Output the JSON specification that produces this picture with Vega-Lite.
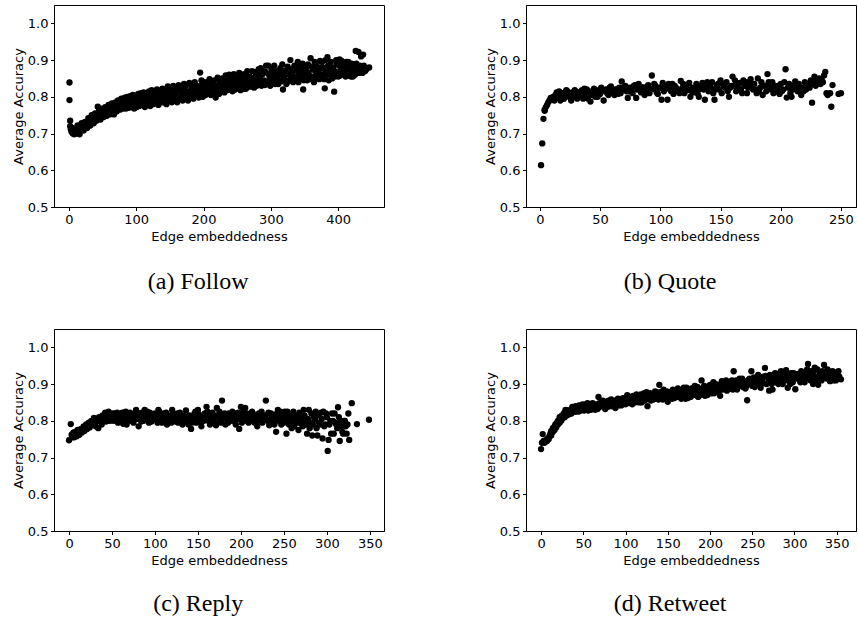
{
"$schema": "https://vega.github.io/schema/vega-lite/v6.json",
"padding": {"left": 11, "top": 4, "right": 0, "bottom": 0},
"columns": 2,
"spacing": {"column": 98, "row": 33},
"config": {
 "view": {"stroke": "black", "strokeWidth": 1},
 "axis": {"domainColor": "black", "domainWidth": 1, "tickColor": "black", "tickWidth": 1, "labelColor": "black", "titleColor": "black", "labelFont": "DejaVu Sans", "titleFont": "DejaVu Sans", "labelFontSize": 13, "titleFontSize": 13, "titleFontWeight": "normal", "tickSize": 3.5, "labelPadding": 2.5, "grid": false, "titlePadding": 4, "labelFlush": false, "labelOverlap": false},
 "axisY": {"titlePadding": 2},
 "title": {"font": "Liberation Serif", "fontSize": 24, "fontWeight": "normal", "color": "black", "orient": "bottom", "anchor": "middle", "frame": "bounds"}
},
"datasets": {
"a": [{"x":1,"y":0.839},{"x":1,"y":0.791},{"x":2,"y":0.735},{"x":2,"y":0.72},{"x":3,"y":0.712},{"x":4,"y":0.705},{"x":5,"y":0.715},{"x":6,"y":0.70},{"x":7,"y":0.708},{"x":8,"y":0.698},{"x":9,"y":0.703},{"x":10,"y":0.71},{"x":11,"y":0.70},{"x":12,"y":0.706},{"x":14,"y":0.712},{"x":15,"y":0.705},{"x":17,"y":0.71},{"x":18,"y":0.72},{"x":20,"y":0.713},{"x":21,"y":0.725},{"x":23,"y":0.718},{"x":25,"y":0.728},{"x":26,"y":0.72},{"x":28,"y":0.73},{"x":30,"y":0.735},{"x":31,"y":0.725},{"x":33,"y":0.74},{"x":35,"y":0.73},{"x":36,"y":0.745},{"x":38,"y":0.738},{"x":40,"y":0.748},{"x":41,"y":0.735},{"x":43,"y":0.773},{"x":44,"y":0.755},{"x":46,"y":0.745},{"x":48,"y":0.752},{"x":50,"y":0.76},{"x":51,"y":0.748},{"x":53,"y":0.765},{"x":55,"y":0.755},{"x":57,"y":0.768},{"x":58,"y":0.76},{"x":60,"y":0.772},{"x":62,"y":0.762},{"x":63,"y":0.775},{"x":65,"y":0.768},{"x":67,"y":0.752},{"x":68,"y":0.778},{"x":70,"y":0.77},{"x":72,"y":0.782},{"x":74,"y":0.772},{"x":75,"y":0.788},{"x":77,"y":0.775},{"x":79,"y":0.792},{"x":80,"y":0.78},{"x":82,"y":0.77},{"x":84,"y":0.785},{"x":86,"y":0.775},{"x":88,"y":0.79},{"x":90,"y":0.78},{"x":92,"y":0.773},{"x":94,"y":0.795},{"x":96,"y":0.782},{"x":98,"y":0.77},{"x":100,"y":0.79},{"x":102,"y":0.78},{"x":104,"y":0.798},{"x":106,"y":0.785},{"x":108,"y":0.792},{"x":110,"y":0.78},{"x":112,"y":0.8},{"x":114,"y":0.788},{"x":116,"y":0.81},{"x":118,"y":0.795},{"x":120,"y":0.785},{"x":122,"y":0.805},{"x":124,"y":0.793},{"x":126,"y":0.812},{"x":128,"y":0.8},{"x":130,"y":0.79},{"x":132,"y":0.808},{"x":134,"y":0.795},{"x":136,"y":0.815},{"x":138,"y":0.8},{"x":140,"y":0.785},{"x":142,"y":0.81},{"x":144,"y":0.798},{"x":146,"y":0.79},{"x":148,"y":0.805},{"x":150,"y":0.825},{"x":152,"y":0.81},{"x":154,"y":0.795},{"x":156,"y":0.818},{"x":158,"y":0.805},{"x":160,"y":0.792},{"x":162,"y":0.815},{"x":164,"y":0.825},{"x":166,"y":0.8},{"x":168,"y":0.812},{"x":170,"y":0.82},{"x":172,"y":0.805},{"x":174,"y":0.83},{"x":176,"y":0.815},{"x":178,"y":0.8},{"x":180,"y":0.835},{"x":182,"y":0.82},{"x":184,"y":0.808},{"x":186,"y":0.825},{"x":188,"y":0.815},{"x":190,"y":0.83},{"x":192,"y":0.81},{"x":195,"y":0.866},{"x":196,"y":0.82},{"x":198,"y":0.835},{"x":200,"y":0.812},{"x":202,"y":0.828},{"x":204,"y":0.818},{"x":206,"y":0.84},{"x":208,"y":0.822},{"x":210,"y":0.812},{"x":212,"y":0.835},{"x":214,"y":0.825},{"x":216,"y":0.845},{"x":218,"y":0.798},{"x":220,"y":0.83},{"x":222,"y":0.818},{"x":224,"y":0.84},{"x":226,"y":0.826},{"x":228,"y":0.85},{"x":230,"y":0.832},{"x":232,"y":0.82},{"x":234,"y":0.845},{"x":236,"y":0.83},{"x":238,"y":0.86},{"x":240,"y":0.838},{"x":242,"y":0.825},{"x":244,"y":0.848},{"x":246,"y":0.833},{"x":248,"y":0.855},{"x":250,"y":0.84},{"x":252,"y":0.826},{"x":254,"y":0.85},{"x":256,"y":0.835},{"x":258,"y":0.86},{"x":260,"y":0.822},{"x":262,"y":0.845},{"x":264,"y":0.833},{"x":266,"y":0.855},{"x":268,"y":0.84},{"x":270,"y":0.828},{"x":272,"y":0.87},{"x":274,"y":0.848},{"x":276,"y":0.835},{"x":278,"y":0.858},{"x":280,"y":0.845},{"x":282,"y":0.875},{"x":284,"y":0.85},{"x":286,"y":0.83},{"x":288,"y":0.862},{"x":290,"y":0.845},{"x":292,"y":0.868},{"x":294,"y":0.838},{"x":296,"y":0.885},{"x":298,"y":0.855},{"x":300,"y":0.842},{"x":302,"y":0.865},{"x":304,"y":0.85},{"x":306,"y":0.835},{"x":308,"y":0.87},{"x":310,"y":0.855},{"x":312,"y":0.845},{"x":314,"y":0.878},{"x":316,"y":0.86},{"x":318,"y":0.82},{"x":320,"y":0.852},{"x":322,"y":0.872},{"x":324,"y":0.84},{"x":326,"y":0.862},{"x":329,"y":0.9},{"x":330,"y":0.85},{"x":332,"y":0.868},{"x":334,"y":0.855},{"x":336,"y":0.875},{"x":338,"y":0.845},{"x":340,"y":0.895},{"x":342,"y":0.862},{"x":344,"y":0.85},{"x":346,"y":0.872},{"x":348,"y":0.82},{"x":350,"y":0.858},{"x":352,"y":0.878},{"x":354,"y":0.845},{"x":356,"y":0.865},{"x":359,"y":0.905},{"x":360,"y":0.855},{"x":362,"y":0.875},{"x":364,"y":0.84},{"x":366,"y":0.87},{"x":368,"y":0.885},{"x":370,"y":0.86},{"x":372,"y":0.848},{"x":374,"y":0.878},{"x":376,"y":0.895},{"x":378,"y":0.862},{"x":380,"y":0.823},{"x":382,"y":0.87},{"x":384,"y":0.908},{"x":386,"y":0.845},{"x":388,"y":0.875},{"x":390,"y":0.86},{"x":392,"y":0.88},{"x":394,"y":0.814},{"x":396,"y":0.868},{"x":398,"y":0.89},{"x":400,"y":0.855},{"x":402,"y":0.902},{"x":404,"y":0.875},{"x":406,"y":0.862},{"x":408,"y":0.885},{"x":410,"y":0.87},{"x":412,"y":0.895},{"x":414,"y":0.858},{"x":416,"y":0.88},{"x":418,"y":0.865},{"x":420,"y":0.89},{"x":422,"y":0.855},{"x":424,"y":0.875},{"x":426,"y":0.925},{"x":428,"y":0.87},{"x":430,"y":0.922},{"x":432,"y":0.885},{"x":434,"y":0.91},{"x":436,"y":0.865},{"x":437,"y":0.915},{"x":440,"y":0.87},{"x":446,"y":0.88},
{"x":13,"y":0.722},{"x":16,"y":0.698},{"x":19,"y":0.728},{"x":22,"y":0.708},{"x":24,"y":0.732},{"x":27,"y":0.715},{"x":29,"y":0.742},{"x":32,"y":0.722},{"x":34,"y":0.75},{"x":37,"y":0.728},{"x":39,"y":0.755},{"x":42,"y":0.738},{"x":45,"y":0.762},{"x":47,"y":0.738},{"x":49,"y":0.768},{"x":52,"y":0.745},{"x":54,"y":0.772},{"x":56,"y":0.748},{"x":59,"y":0.778},{"x":61,"y":0.752},{"x":64,"y":0.782},{"x":66,"y":0.758},{"x":69,"y":0.785},{"x":71,"y":0.76},{"x":73,"y":0.79},{"x":76,"y":0.765},{"x":78,"y":0.795},{"x":81,"y":0.768},{"x":83,"y":0.798},{"x":85,"y":0.768},{"x":87,"y":0.8},{"x":89,"y":0.77},{"x":91,"y":0.802},{"x":93,"y":0.772},{"x":95,"y":0.805},{"x":97,"y":0.768},{"x":99,"y":0.8},{"x":101,"y":0.772},{"x":103,"y":0.808},{"x":105,"y":0.775},{"x":107,"y":0.81},{"x":109,"y":0.778},{"x":111,"y":0.812},{"x":113,"y":0.772},{"x":115,"y":0.8},{"x":117,"y":0.778},{"x":119,"y":0.815},{"x":121,"y":0.775},{"x":123,"y":0.818},{"x":125,"y":0.78},{"x":127,"y":0.798},{"x":129,"y":0.782},{"x":131,"y":0.82},{"x":133,"y":0.778},{"x":135,"y":0.805},{"x":137,"y":0.785},{"x":139,"y":0.822},{"x":141,"y":0.79},{"x":143,"y":0.818},{"x":145,"y":0.78},{"x":147,"y":0.828},{"x":149,"y":0.79},{"x":151,"y":0.815},{"x":153,"y":0.785},{"x":155,"y":0.83},{"x":157,"y":0.792},{"x":159,"y":0.82},{"x":161,"y":0.785},{"x":163,"y":0.832},{"x":165,"y":0.795},{"x":167,"y":0.828},{"x":169,"y":0.79},{"x":171,"y":0.835},{"x":173,"y":0.8},{"x":175,"y":0.81},{"x":177,"y":0.79},{"x":179,"y":0.838},{"x":181,"y":0.8},{"x":183,"y":0.832},{"x":185,"y":0.795},{"x":187,"y":0.84},{"x":189,"y":0.805},{"x":191,"y":0.825},{"x":193,"y":0.798},{"x":197,"y":0.845},{"x":199,"y":0.8},{"x":201,"y":0.84},{"x":203,"y":0.805},{"x":205,"y":0.83},{"x":207,"y":0.81},{"x":209,"y":0.848},{"x":211,"y":0.805},{"x":213,"y":0.84},{"x":215,"y":0.81},{"x":217,"y":0.825},{"x":219,"y":0.812},{"x":221,"y":0.852},{"x":223,"y":0.808},{"x":225,"y":0.845},{"x":227,"y":0.815},{"x":229,"y":0.835},{"x":231,"y":0.812},{"x":233,"y":0.858},{"x":235,"y":0.818},{"x":237,"y":0.848},{"x":239,"y":0.82},{"x":241,"y":0.855},{"x":243,"y":0.815},{"x":245,"y":0.862},{"x":247,"y":0.82},{"x":249,"y":0.845},{"x":251,"y":0.825},{"x":253,"y":0.865},{"x":255,"y":0.818},{"x":257,"y":0.848},{"x":259,"y":0.83},{"x":261,"y":0.862},{"x":263,"y":0.822},{"x":265,"y":0.87},{"x":267,"y":0.828},{"x":269,"y":0.855},{"x":271,"y":0.835},{"x":273,"y":0.845},{"x":275,"y":0.825},{"x":277,"y":0.868},{"x":279,"y":0.83},{"x":281,"y":0.862},{"x":283,"y":0.835},{"x":285,"y":0.878},{"x":287,"y":0.838},{"x":289,"y":0.87},{"x":291,"y":0.832},{"x":293,"y":0.885},{"x":295,"y":0.84},{"x":297,"y":0.862},{"x":299,"y":0.83},{"x":301,"y":0.875},{"x":303,"y":0.838},{"x":305,"y":0.885},{"x":307,"y":0.845},{"x":309,"y":0.86},{"x":311,"y":0.835},{"x":313,"y":0.868},{"x":315,"y":0.842},{"x":317,"y":0.888},{"x":319,"y":0.85},{"x":321,"y":0.865},{"x":323,"y":0.835},{"x":325,"y":0.882},{"x":327,"y":0.845},{"x":331,"y":0.875},{"x":333,"y":0.84},{"x":335,"y":0.885},{"x":337,"y":0.85},{"x":339,"y":0.87},{"x":341,"y":0.84},{"x":343,"y":0.882},{"x":345,"y":0.855},{"x":347,"y":0.89},{"x":349,"y":0.845},{"x":351,"y":0.87},{"x":353,"y":0.855},{"x":355,"y":0.888},{"x":357,"y":0.848},{"x":361,"y":0.882},{"x":363,"y":0.855},{"x":365,"y":0.895},{"x":367,"y":0.85},{"x":369,"y":0.875},{"x":371,"y":0.865},{"x":373,"y":0.898},{"x":375,"y":0.855},{"x":377,"y":0.88},{"x":379,"y":0.848},{"x":381,"y":0.9},{"x":383,"y":0.86},{"x":385,"y":0.885},{"x":387,"y":0.862},{"x":389,"y":0.895},{"x":391,"y":0.85},{"x":393,"y":0.875},{"x":395,"y":0.855},{"x":397,"y":0.9},{"x":399,"y":0.865},{"x":401,"y":0.885},{"x":403,"y":0.858},{"x":405,"y":0.898},{"x":407,"y":0.87},{"x":409,"y":0.89},{"x":411,"y":0.855},{"x":413,"y":0.878},{"x":415,"y":0.895},{"x":417,"y":0.868},{"x":419,"y":0.855},{"x":421,"y":0.878},{"x":423,"y":0.885},{"x":425,"y":0.86},{"x":427,"y":0.89},{"x":429,"y":0.875},{"x":431,"y":0.865},{"x":433,"y":0.882},{"x":435,"y":0.87},{"x":438,"y":0.885},{"x":442,"y":0.875}],
"b": [{"x":1,"y":0.614},{"x":2,"y":0.673},{"x":3,"y":0.74},{"x":4,"y":0.765},{"x":4,"y":0.762},{"x":5,"y":0.772},{"x":6,"y":0.778},{"x":7,"y":0.785},{"x":8,"y":0.79},{"x":9,"y":0.797},{"x":10,"y":0.793},{"x":11,"y":0.80},{"x":12,"y":0.79},{"x":13,"y":0.805},{"x":14,"y":0.798},{"x":15,"y":0.81},{"x":16,"y":0.80},{"x":17,"y":0.79},{"x":18,"y":0.81},{"x":19,"y":0.802},{"x":20,"y":0.795},{"x":21,"y":0.812},{"x":22,"y":0.805},{"x":23,"y":0.815},{"x":24,"y":0.80},{"x":25,"y":0.81},{"x":26,"y":0.79},{"x":27,"y":0.812},{"x":28,"y":0.80},{"x":30,"y":0.808},{"x":31,"y":0.795},{"x":32,"y":0.812},{"x":33,"y":0.80},{"x":35,"y":0.818},{"x":36,"y":0.805},{"x":37,"y":0.822},{"x":38,"y":0.81},{"x":40,"y":0.795},{"x":41,"y":0.815},{"x":42,"y":0.787},{"x":43,"y":0.805},{"x":44,"y":0.815},{"x":46,"y":0.80},{"x":47,"y":0.81},{"x":49,"y":0.818},{"x":50,"y":0.808},{"x":51,"y":0.825},{"x":53,"y":0.79},{"x":54,"y":0.815},{"x":55,"y":0.82},{"x":57,"y":0.805},{"x":58,"y":0.825},{"x":60,"y":0.812},{"x":61,"y":0.82},{"x":62,"y":0.805},{"x":64,"y":0.818},{"x":66,"y":0.825},{"x":67,"y":0.81},{"x":68,"y":0.842},{"x":70,"y":0.82},{"x":71,"y":0.83},{"x":73,"y":0.797},{"x":74,"y":0.815},{"x":75,"y":0.825},{"x":77,"y":0.81},{"x":78,"y":0.83},{"x":80,"y":0.797},{"x":81,"y":0.82},{"x":82,"y":0.835},{"x":84,"y":0.812},{"x":85,"y":0.826},{"x":87,"y":0.805},{"x":88,"y":0.82},{"x":90,"y":0.832},{"x":91,"y":0.81},{"x":93,"y":0.858},{"x":94,"y":0.822},{"x":95,"y":0.835},{"x":97,"y":0.812},{"x":99,"y":0.825},{"x":101,"y":0.792},{"x":102,"y":0.838},{"x":103,"y":0.815},{"x":105,"y":0.83},{"x":106,"y":0.792},{"x":108,"y":0.82},{"x":110,"y":0.835},{"x":111,"y":0.808},{"x":113,"y":0.825},{"x":115,"y":0.815},{"x":117,"y":0.843},{"x":118,"y":0.822},{"x":120,"y":0.81},{"x":121,"y":0.83},{"x":123,"y":0.818},{"x":125,"y":0.80},{"x":127,"y":0.825},{"x":128,"y":0.812},{"x":130,"y":0.835},{"x":132,"y":0.80},{"x":133,"y":0.822},{"x":135,"y":0.838},{"x":137,"y":0.792},{"x":138,"y":0.825},{"x":140,"y":0.815},{"x":141,"y":0.83},{"x":143,"y":0.84},{"x":145,"y":0.792},{"x":146,"y":0.82},{"x":148,"y":0.835},{"x":150,"y":0.845},{"x":151,"y":0.81},{"x":153,"y":0.828},{"x":155,"y":0.84},{"x":157,"y":0.80},{"x":158,"y":0.825},{"x":160,"y":0.855},{"x":161,"y":0.83},{"x":163,"y":0.815},{"x":165,"y":0.835},{"x":167,"y":0.82},{"x":169,"y":0.845},{"x":170,"y":0.83},{"x":172,"y":0.81},{"x":174,"y":0.84},{"x":175,"y":0.848},{"x":177,"y":0.82},{"x":178,"y":0.835},{"x":180,"y":0.81},{"x":181,"y":0.85},{"x":183,"y":0.825},{"x":185,"y":0.805},{"x":186,"y":0.83},{"x":188,"y":0.815},{"x":189,"y":0.862},{"x":190,"y":0.84},{"x":192,"y":0.82},{"x":194,"y":0.81},{"x":195,"y":0.83},{"x":197,"y":0.822},{"x":199,"y":0.808},{"x":200,"y":0.835},{"x":201,"y":0.815},{"x":203,"y":0.84},{"x":204,"y":0.875},{"x":205,"y":0.798},{"x":206,"y":0.825},{"x":208,"y":0.81},{"x":209,"y":0.80},{"x":211,"y":0.83},{"x":212,"y":0.842},{"x":214,"y":0.815},{"x":215,"y":0.835},{"x":217,"y":0.805},{"x":218,"y":0.825},{"x":220,"y":0.84},{"x":221,"y":0.82},{"x":223,"y":0.835},{"x":225,"y":0.845},{"x":226,"y":0.784},{"x":228,"y":0.855},{"x":229,"y":0.83},{"x":231,"y":0.84},{"x":233,"y":0.835},{"x":234,"y":0.845},{"x":236,"y":0.858},{"x":237,"y":0.868},{"x":238,"y":0.81},{"x":239,"y":0.805},{"x":241,"y":0.81},{"x":242,"y":0.773},{"x":243,"y":0.832},{"x":248,"y":0.808},{"x":250,"y":0.81},
{"x":14,"y":0.812},{"x":16,"y":0.815},{"x":19,"y":0.795},{"x":22,"y":0.818},{"x":24,"y":0.81},{"x":26,"y":0.805},{"x":29,"y":0.818},{"x":31,"y":0.81},{"x":34,"y":0.815},{"x":36,"y":0.795},{"x":39,"y":0.82},{"x":42,"y":0.81},{"x":45,"y":0.822},{"x":48,"y":0.80},{"x":52,"y":0.818},{"x":56,"y":0.81},{"x":59,"y":0.828},{"x":63,"y":0.82},{"x":65,"y":0.808},{"x":69,"y":0.825},{"x":72,"y":0.815},{"x":76,"y":0.82},{"x":79,"y":0.832},{"x":83,"y":0.822},{"x":86,"y":0.815},{"x":89,"y":0.828},{"x":92,"y":0.82},{"x":96,"y":0.83},{"x":98,"y":0.808},{"x":100,"y":0.825},{"x":104,"y":0.822},{"x":107,"y":0.835},{"x":109,"y":0.815},{"x":112,"y":0.83},{"x":114,"y":0.82},{"x":116,"y":0.81},{"x":119,"y":0.835},{"x":122,"y":0.825},{"x":124,"y":0.838},{"x":126,"y":0.815},{"x":129,"y":0.822},{"x":131,"y":0.81},{"x":134,"y":0.83},{"x":136,"y":0.82},{"x":139,"y":0.84},{"x":142,"y":0.825},{"x":144,"y":0.81},{"x":147,"y":0.83},{"x":149,"y":0.82},{"x":152,"y":0.835},{"x":154,"y":0.825},{"x":156,"y":0.815},{"x":159,"y":0.83},{"x":162,"y":0.845},{"x":164,"y":0.825},{"x":166,"y":0.838},{"x":168,"y":0.81},{"x":171,"y":0.84},{"x":173,"y":0.825},{"x":176,"y":0.835},{"x":179,"y":0.82},{"x":182,"y":0.815},{"x":184,"y":0.84},{"x":187,"y":0.83},{"x":191,"y":0.825},{"x":193,"y":0.84},{"x":196,"y":0.815},{"x":198,"y":0.83},{"x":202,"y":0.82},{"x":207,"y":0.835},{"x":210,"y":0.82},{"x":213,"y":0.83},{"x":216,"y":0.825},{"x":219,"y":0.815},{"x":222,"y":0.83},{"x":224,"y":0.825},{"x":227,"y":0.835},{"x":230,"y":0.845},{"x":232,"y":0.85},{"x":235,"y":0.84}],
"c": [{"x":0,"y":0.747},{"x":2,"y":0.791},{"x":3,"y":0.762},{"x":5,"y":0.768},{"x":6,"y":0.755},{"x":8,"y":0.765},{"x":9,"y":0.758},{"x":11,"y":0.772},{"x":12,"y":0.762},{"x":14,"y":0.778},{"x":15,"y":0.768},{"x":17,"y":0.785},{"x":18,"y":0.772},{"x":20,"y":0.79},{"x":21,"y":0.778},{"x":23,"y":0.795},{"x":24,"y":0.782},{"x":26,"y":0.80},{"x":27,"y":0.79},{"x":29,"y":0.808},{"x":30,"y":0.795},{"x":32,"y":0.805},{"x":34,"y":0.78},{"x":35,"y":0.81},{"x":37,"y":0.798},{"x":39,"y":0.815},{"x":40,"y":0.805},{"x":42,"y":0.822},{"x":44,"y":0.81},{"x":45,"y":0.80},{"x":47,"y":0.818},{"x":49,"y":0.808},{"x":50,"y":0.815},{"x":52,"y":0.80},{"x":54,"y":0.82},{"x":55,"y":0.81},{"x":57,"y":0.795},{"x":59,"y":0.818},{"x":60,"y":0.808},{"x":62,"y":0.822},{"x":64,"y":0.80},{"x":65,"y":0.815},{"x":67,"y":0.79},{"x":69,"y":0.82},{"x":70,"y":0.81},{"x":72,"y":0.80},{"x":74,"y":0.818},{"x":76,"y":0.808},{"x":78,"y":0.83},{"x":80,"y":0.815},{"x":81,"y":0.785},{"x":83,"y":0.81},{"x":85,"y":0.822},{"x":87,"y":0.80},{"x":88,"y":0.83},{"x":90,"y":0.815},{"x":92,"y":0.805},{"x":94,"y":0.822},{"x":96,"y":0.798},{"x":98,"y":0.81},{"x":100,"y":0.82},{"x":102,"y":0.805},{"x":104,"y":0.83},{"x":106,"y":0.812},{"x":108,"y":0.795},{"x":110,"y":0.82},{"x":112,"y":0.808},{"x":114,"y":0.79},{"x":116,"y":0.815},{"x":118,"y":0.805},{"x":120,"y":0.83},{"x":122,"y":0.812},{"x":124,"y":0.798},{"x":126,"y":0.82},{"x":128,"y":0.808},{"x":130,"y":0.815},{"x":132,"y":0.79},{"x":134,"y":0.81},{"x":136,"y":0.828},{"x":138,"y":0.80},{"x":140,"y":0.815},{"x":142,"y":0.778},{"x":144,"y":0.808},{"x":146,"y":0.82},{"x":148,"y":0.795},{"x":150,"y":0.83},{"x":152,"y":0.81},{"x":154,"y":0.785},{"x":156,"y":0.805},{"x":158,"y":0.82},{"x":160,"y":0.838},{"x":162,"y":0.80},{"x":164,"y":0.79},{"x":166,"y":0.818},{"x":168,"y":0.808},{"x":170,"y":0.795},{"x":172,"y":0.835},{"x":174,"y":0.81},{"x":176,"y":0.80},{"x":178,"y":0.855},{"x":180,"y":0.815},{"x":182,"y":0.79},{"x":184,"y":0.805},{"x":186,"y":0.82},{"x":188,"y":0.80},{"x":190,"y":0.825},{"x":192,"y":0.81},{"x":194,"y":0.79},{"x":196,"y":0.805},{"x":198,"y":0.778},{"x":200,"y":0.838},{"x":202,"y":0.815},{"x":204,"y":0.80},{"x":205,"y":0.835},{"x":207,"y":0.82},{"x":209,"y":0.795},{"x":211,"y":0.81},{"x":213,"y":0.825},{"x":215,"y":0.80},{"x":217,"y":0.815},{"x":219,"y":0.785},{"x":221,"y":0.82},{"x":223,"y":0.805},{"x":225,"y":0.795},{"x":227,"y":0.812},{"x":229,"y":0.855},{"x":231,"y":0.80},{"x":233,"y":0.788},{"x":235,"y":0.82},{"x":237,"y":0.805},{"x":239,"y":0.79},{"x":241,"y":0.77},{"x":243,"y":0.83},{"x":245,"y":0.81},{"x":247,"y":0.79},{"x":249,"y":0.805},{"x":251,"y":0.825},{"x":253,"y":0.765},{"x":255,"y":0.80},{"x":257,"y":0.815},{"x":259,"y":0.78},{"x":261,"y":0.825},{"x":263,"y":0.795},{"x":265,"y":0.808},{"x":267,"y":0.775},{"x":269,"y":0.815},{"x":271,"y":0.79},{"x":273,"y":0.83},{"x":275,"y":0.80},{"x":277,"y":0.765},{"x":279,"y":0.83},{"x":281,"y":0.795},{"x":283,"y":0.76},{"x":285,"y":0.81},{"x":287,"y":0.825},{"x":289,"y":0.76},{"x":291,"y":0.795},{"x":293,"y":0.822},{"x":295,"y":0.752},{"x":297,"y":0.785},{"x":299,"y":0.82},{"x":301,"y":0.718},{"x":302,"y":0.748},{"x":304,"y":0.80},{"x":306,"y":0.82},{"x":308,"y":0.765},{"x":310,"y":0.795},{"x":312,"y":0.78},{"x":313,"y":0.837},{"x":315,"y":0.745},{"x":316,"y":0.80},{"x":318,"y":0.77},{"x":320,"y":0.80},{"x":322,"y":0.785},{"x":323,"y":0.765},{"x":325,"y":0.82},{"x":326,"y":0.748},{"x":329,"y":0.848},{"x":335,"y":0.791},{"x":349,"y":0.803},
{"x":4,"y":0.755},{"x":7,"y":0.77},{"x":10,"y":0.775},{"x":13,"y":0.77},{"x":16,"y":0.775},{"x":19,"y":0.785},{"x":22,"y":0.79},{"x":25,"y":0.79},{"x":28,"y":0.80},{"x":31,"y":0.785},{"x":33,"y":0.80},{"x":36,"y":0.805},{"x":38,"y":0.79},{"x":41,"y":0.81},{"x":43,"y":0.798},{"x":46,"y":0.825},{"x":48,"y":0.80},{"x":51,"y":0.82},{"x":53,"y":0.812},{"x":56,"y":0.822},{"x":58,"y":0.805},{"x":61,"y":0.815},{"x":63,"y":0.792},{"x":66,"y":0.825},{"x":68,"y":0.805},{"x":71,"y":0.822},{"x":73,"y":0.812},{"x":75,"y":0.795},{"x":77,"y":0.815},{"x":79,"y":0.805},{"x":82,"y":0.82},{"x":84,"y":0.798},{"x":86,"y":0.81},{"x":89,"y":0.808},{"x":91,"y":0.825},{"x":93,"y":0.795},{"x":95,"y":0.81},{"x":97,"y":0.818},{"x":99,"y":0.805},{"x":101,"y":0.812},{"x":103,"y":0.795},{"x":105,"y":0.825},{"x":107,"y":0.805},{"x":109,"y":0.815},{"x":111,"y":0.8},{"x":113,"y":0.822},{"x":115,"y":0.798},{"x":117,"y":0.812},{"x":119,"y":0.795},{"x":121,"y":0.818},{"x":123,"y":0.805},{"x":125,"y":0.81},{"x":127,"y":0.795},{"x":129,"y":0.822},{"x":131,"y":0.805},{"x":133,"y":0.815},{"x":135,"y":0.798},{"x":137,"y":0.81},{"x":139,"y":0.79},{"x":141,"y":0.805},{"x":143,"y":0.795},{"x":145,"y":0.81},{"x":147,"y":0.825},{"x":149,"y":0.805},{"x":151,"y":0.818},{"x":153,"y":0.798},{"x":155,"y":0.81},{"x":157,"y":0.8},{"x":159,"y":0.815},{"x":161,"y":0.825},{"x":163,"y":0.808},{"x":165,"y":0.8},{"x":167,"y":0.822},{"x":169,"y":0.81},{"x":171,"y":0.788},{"x":173,"y":0.815},{"x":175,"y":0.825},{"x":177,"y":0.795},{"x":179,"y":0.808},{"x":181,"y":0.82},{"x":183,"y":0.805},{"x":185,"y":0.795},{"x":187,"y":0.81},{"x":189,"y":0.815},{"x":191,"y":0.8},{"x":193,"y":0.82},{"x":195,"y":0.81},{"x":197,"y":0.822},{"x":199,"y":0.805},{"x":201,"y":0.795},{"x":203,"y":0.825},{"x":206,"y":0.805},{"x":208,"y":0.815},{"x":210,"y":0.8},{"x":212,"y":0.812},{"x":214,"y":0.82},{"x":216,"y":0.795},{"x":218,"y":0.81},{"x":220,"y":0.8},{"x":222,"y":0.815},{"x":224,"y":0.825},{"x":226,"y":0.8},{"x":228,"y":0.815},{"x":230,"y":0.805},{"x":232,"y":0.822},{"x":234,"y":0.8},{"x":236,"y":0.81},{"x":238,"y":0.795},{"x":240,"y":0.808},{"x":242,"y":0.82},{"x":244,"y":0.8},{"x":246,"y":0.825},{"x":248,"y":0.81},{"x":250,"y":0.795},{"x":252,"y":0.81},{"x":254,"y":0.825},{"x":256,"y":0.79},{"x":258,"y":0.81},{"x":260,"y":0.8},{"x":262,"y":0.785},{"x":264,"y":0.815},{"x":266,"y":0.795},{"x":268,"y":0.822},{"x":270,"y":0.805},{"x":272,"y":0.785},{"x":274,"y":0.815},{"x":276,"y":0.79},{"x":278,"y":0.805},{"x":280,"y":0.78},{"x":282,"y":0.82},{"x":284,"y":0.79},{"x":286,"y":0.805},{"x":288,"y":0.78},{"x":290,"y":0.815},{"x":292,"y":0.79},{"x":294,"y":0.805},{"x":296,"y":0.825},{"x":298,"y":0.79},{"x":300,"y":0.81},{"x":303,"y":0.79},{"x":305,"y":0.765},{"x":307,"y":0.8},{"x":309,"y":0.82},{"x":311,"y":0.79},{"x":314,"y":0.81},{"x":317,"y":0.785},{"x":319,"y":0.765},{"x":321,"y":0.8},{"x":324,"y":0.79}],
"d": [{"x":0,"y":0.723},{"x":2,"y":0.764},{"x":3,"y":0.745},{"x":4,"y":0.74},{"x":5,"y":0.742},{"x":6,"y":0.748},{"x":7,"y":0.745},{"x":8,"y":0.752},{"x":9,"y":0.75},{"x":10,"y":0.758},{"x":11,"y":0.765},{"x":12,"y":0.772},{"x":13,"y":0.768},{"x":14,"y":0.78},{"x":15,"y":0.775},{"x":16,"y":0.785},{"x":17,"y":0.79},{"x":18,"y":0.782},{"x":19,"y":0.795},{"x":20,"y":0.79},{"x":21,"y":0.80},{"x":22,"y":0.795},{"x":23,"y":0.805},{"x":24,"y":0.80},{"x":25,"y":0.815},{"x":26,"y":0.808},{"x":27,"y":0.82},{"x":28,"y":0.81},{"x":30,"y":0.822},{"x":31,"y":0.815},{"x":32,"y":0.828},{"x":33,"y":0.818},{"x":35,"y":0.83},{"x":36,"y":0.82},{"x":38,"y":0.835},{"x":40,"y":0.825},{"x":41,"y":0.84},{"x":43,"y":0.83},{"x":45,"y":0.842},{"x":47,"y":0.828},{"x":48,"y":0.838},{"x":50,"y":0.832},{"x":52,"y":0.845},{"x":54,"y":0.835},{"x":56,"y":0.828},{"x":58,"y":0.842},{"x":60,"y":0.835},{"x":62,"y":0.845},{"x":64,"y":0.83},{"x":66,"y":0.84},{"x":68,"y":0.865},{"x":70,"y":0.838},{"x":72,"y":0.85},{"x":74,"y":0.84},{"x":76,"y":0.832},{"x":78,"y":0.848},{"x":80,"y":0.855},{"x":82,"y":0.84},{"x":84,"y":0.852},{"x":86,"y":0.845},{"x":88,"y":0.835},{"x":90,"y":0.85},{"x":92,"y":0.842},{"x":94,"y":0.855},{"x":96,"y":0.848},{"x":98,"y":0.86},{"x":100,"y":0.845},{"x":102,"y":0.87},{"x":104,"y":0.852},{"x":106,"y":0.858},{"x":108,"y":0.845},{"x":110,"y":0.862},{"x":112,"y":0.855},{"x":114,"y":0.865},{"x":116,"y":0.85},{"x":118,"y":0.872},{"x":120,"y":0.858},{"x":122,"y":0.875},{"x":124,"y":0.862},{"x":126,"y":0.84},{"x":128,"y":0.868},{"x":130,"y":0.855},{"x":132,"y":0.872},{"x":134,"y":0.86},{"x":136,"y":0.878},{"x":138,"y":0.865},{"x":140,"y":0.898},{"x":142,"y":0.87},{"x":144,"y":0.858},{"x":146,"y":0.875},{"x":148,"y":0.865},{"x":150,"y":0.852},{"x":152,"y":0.878},{"x":154,"y":0.868},{"x":156,"y":0.885},{"x":158,"y":0.862},{"x":160,"y":0.875},{"x":162,"y":0.888},{"x":164,"y":0.87},{"x":166,"y":0.86},{"x":168,"y":0.882},{"x":170,"y":0.872},{"x":172,"y":0.89},{"x":174,"y":0.862},{"x":176,"y":0.878},{"x":178,"y":0.888},{"x":180,"y":0.87},{"x":182,"y":0.895},{"x":184,"y":0.875},{"x":186,"y":0.865},{"x":188,"y":0.885},{"x":190,"y":0.91},{"x":192,"y":0.878},{"x":194,"y":0.868},{"x":196,"y":0.892},{"x":198,"y":0.88},{"x":200,"y":0.898},{"x":202,"y":0.875},{"x":204,"y":0.905},{"x":206,"y":0.885},{"x":208,"y":0.895},{"x":210,"y":0.878},{"x":212,"y":0.868},{"x":214,"y":0.908},{"x":216,"y":0.89},{"x":218,"y":0.9},{"x":220,"y":0.882},{"x":222,"y":0.898},{"x":224,"y":0.888},{"x":226,"y":0.91},{"x":228,"y":0.935},{"x":230,"y":0.895},{"x":232,"y":0.885},{"x":234,"y":0.905},{"x":236,"y":0.895},{"x":238,"y":0.915},{"x":240,"y":0.9},{"x":242,"y":0.888},{"x":244,"y":0.856},{"x":246,"y":0.912},{"x":248,"y":0.905},{"x":249,"y":0.935},{"x":250,"y":0.895},{"x":252,"y":0.918},{"x":256,"y":0.9},{"x":258,"y":0.912},{"x":260,"y":0.89},{"x":262,"y":0.915},{"x":264,"y":0.902},{"x":265,"y":0.944},{"x":266,"y":0.922},{"x":270,"y":0.882},{"x":272,"y":0.912},{"x":274,"y":0.885},{"x":276,"y":0.92},{"x":278,"y":0.905},{"x":280,"y":0.928},{"x":282,"y":0.91},{"x":284,"y":0.935},{"x":286,"y":0.9},{"x":288,"y":0.922},{"x":290,"y":0.938},{"x":292,"y":0.89},{"x":294,"y":0.915},{"x":296,"y":0.93},{"x":298,"y":0.905},{"x":300,"y":0.92},{"x":301,"y":0.886},{"x":304,"y":0.928},{"x":306,"y":0.912},{"x":308,"y":0.935},{"x":310,"y":0.918},{"x":312,"y":0.905},{"x":314,"y":0.93},{"x":316,"y":0.955},{"x":318,"y":0.915},{"x":320,"y":0.935},{"x":322,"y":0.9},{"x":324,"y":0.945},{"x":326,"y":0.92},{"x":328,"y":0.898},{"x":330,"y":0.932},{"x":332,"y":0.91},{"x":334,"y":0.925},{"x":335,"y":0.952},{"x":338,"y":0.915},{"x":340,"y":0.935},{"x":342,"y":0.908},{"x":344,"y":0.928},{"x":346,"y":0.91},{"x":348,"y":0.932},{"x":350,"y":0.915},{"x":352,"y":0.935},{"x":355,"y":0.913},
{"x":1,"y":0.74},{"x":12,"y":0.76},{"x":14,"y":0.77},{"x":16,"y":0.775},{"x":18,"y":0.79},{"x":20,"y":0.80},{"x":22,"y":0.81},{"x":24,"y":0.812},{"x":26,"y":0.815},{"x":28,"y":0.822},{"x":29,"y":0.83},{"x":31,"y":0.825},{"x":34,"y":0.822},{"x":37,"y":0.838},{"x":39,"y":0.825},{"x":42,"y":0.835},{"x":44,"y":0.825},{"x":46,"y":0.84},{"x":49,"y":0.845},{"x":51,"y":0.828},{"x":53,"y":0.84},{"x":55,"y":0.848},{"x":57,"y":0.835},{"x":59,"y":0.83},{"x":61,"y":0.848},{"x":63,"y":0.838},{"x":65,"y":0.845},{"x":67,"y":0.832},{"x":69,"y":0.848},{"x":71,"y":0.842},{"x":73,"y":0.855},{"x":75,"y":0.845},{"x":77,"y":0.852},{"x":79,"y":0.838},{"x":81,"y":0.845},{"x":83,"y":0.858},{"x":85,"y":0.84},{"x":87,"y":0.855},{"x":89,"y":0.848},{"x":91,"y":0.86},{"x":93,"y":0.845},{"x":95,"y":0.842},{"x":97,"y":0.862},{"x":99,"y":0.852},{"x":101,"y":0.858},{"x":103,"y":0.848},{"x":105,"y":0.865},{"x":107,"y":0.852},{"x":109,"y":0.868},{"x":111,"y":0.85},{"x":113,"y":0.872},{"x":115,"y":0.858},{"x":117,"y":0.862},{"x":119,"y":0.85},{"x":121,"y":0.868},{"x":123,"y":0.855},{"x":125,"y":0.878},{"x":127,"y":0.86},{"x":129,"y":0.875},{"x":131,"y":0.865},{"x":133,"y":0.858},{"x":135,"y":0.88},{"x":137,"y":0.87},{"x":139,"y":0.858},{"x":141,"y":0.878},{"x":143,"y":0.865},{"x":145,"y":0.885},{"x":147,"y":0.87},{"x":149,"y":0.88},{"x":151,"y":0.865},{"x":153,"y":0.875},{"x":155,"y":0.86},{"x":157,"y":0.878},{"x":159,"y":0.87},{"x":161,"y":0.865},{"x":163,"y":0.88},{"x":165,"y":0.875},{"x":167,"y":0.868},{"x":169,"y":0.89},{"x":171,"y":0.86},{"x":173,"y":0.88},{"x":175,"y":0.87},{"x":177,"y":0.865},{"x":179,"y":0.878},{"x":181,"y":0.885},{"x":183,"y":0.87},{"x":185,"y":0.892},{"x":187,"y":0.875},{"x":189,"y":0.87},{"x":191,"y":0.888},{"x":193,"y":0.895},{"x":195,"y":0.878},{"x":197,"y":0.87},{"x":199,"y":0.892},{"x":201,"y":0.885},{"x":203,"y":0.895},{"x":205,"y":0.875},{"x":207,"y":0.9},{"x":209,"y":0.89},{"x":211,"y":0.885},{"x":213,"y":0.9},{"x":215,"y":0.885},{"x":217,"y":0.895},{"x":219,"y":0.91},{"x":221,"y":0.89},{"x":223,"y":0.905},{"x":225,"y":0.895},{"x":227,"y":0.885},{"x":229,"y":0.9},{"x":231,"y":0.91},{"x":233,"y":0.895},{"x":235,"y":0.915},{"x":237,"y":0.9},{"x":239,"y":0.892},{"x":241,"y":0.908},{"x":243,"y":0.895},{"x":245,"y":0.902},{"x":247,"y":0.915},{"x":251,"y":0.905},{"x":253,"y":0.892},{"x":255,"y":0.91},{"x":257,"y":0.925},{"x":259,"y":0.9},{"x":261,"y":0.905},{"x":263,"y":0.92},{"x":267,"y":0.9},{"x":269,"y":0.915},{"x":271,"y":0.925},{"x":273,"y":0.9},{"x":275,"y":0.91},{"x":277,"y":0.93},{"x":279,"y":0.915},{"x":281,"y":0.9},{"x":283,"y":0.92},{"x":285,"y":0.925},{"x":287,"y":0.91},{"x":289,"y":0.93},{"x":291,"y":0.91},{"x":293,"y":0.925},{"x":295,"y":0.9},{"x":297,"y":0.918},{"x":299,"y":0.93},{"x":303,"y":0.915},{"x":305,"y":0.92},{"x":307,"y":0.905},{"x":309,"y":0.925},{"x":311,"y":0.93},{"x":313,"y":0.915},{"x":315,"y":0.94},{"x":317,"y":0.925},{"x":319,"y":0.91},{"x":321,"y":0.925},{"x":323,"y":0.935},{"x":325,"y":0.91},{"x":327,"y":0.94},{"x":329,"y":0.915},{"x":331,"y":0.92},{"x":333,"y":0.935},{"x":337,"y":0.92},{"x":339,"y":0.94},{"x":341,"y":0.925},{"x":343,"y":0.915},{"x":345,"y":0.935},{"x":347,"y":0.92},{"x":349,"y":0.91},{"x":351,"y":0.925},{"x":353,"y":0.92}]
},
"concat": [
 {"data": {"name": "a"}, "width": 330, "height": 202, "title": {"text": "(a) Follow", "offset": 27},
  "mark": {"type": "circle", "size": 40, "color": "black", "opacity": 1},
  "encoding": {
   "x": {"field": "x", "type": "quantitative", "scale": {"domain": [-22, 468], "nice": false, "zero": false}, "axis": {"values": [0, 100, 200, 300, 400], "title": "Edge embeddedness"}},
   "y": {"field": "y", "type": "quantitative", "scale": {"domain": [0.5, 1.05], "nice": false, "zero": false}, "axis": {"values": [0.5, 0.6, 0.7, 0.8, 0.9, 1.0], "format": ".1f", "title": "Average Accuracy"}}}},
 {"data": {"name": "b"}, "width": 330, "height": 202, "title": {"text": "(b) Quote", "offset": 27},
  "mark": {"type": "circle", "size": 40, "color": "black", "opacity": 1},
  "encoding": {
   "x": {"field": "x", "type": "quantitative", "scale": {"domain": [-11.5, 262.5], "nice": false, "zero": false}, "axis": {"values": [0, 50, 100, 150, 200, 250], "title": "Edge embeddedness"}},
   "y": {"field": "y", "type": "quantitative", "scale": {"domain": [0.5, 1.05], "nice": false, "zero": false}, "axis": {"values": [0.5, 0.6, 0.7, 0.8, 0.9, 1.0], "format": ".1f", "title": "Average Accuracy"}}}},
 {"data": {"name": "c"}, "width": 330, "height": 202, "title": {"text": "(c) Reply", "offset": 25},
  "mark": {"type": "circle", "size": 40, "color": "black", "opacity": 1},
  "encoding": {
   "x": {"field": "x", "type": "quantitative", "scale": {"domain": [-17.5, 366.5], "nice": false, "zero": false}, "axis": {"values": [0, 50, 100, 150, 200, 250, 300, 350], "title": "Edge embeddedness"}},
   "y": {"field": "y", "type": "quantitative", "scale": {"domain": [0.5, 1.05], "nice": false, "zero": false}, "axis": {"values": [0.5, 0.6, 0.7, 0.8, 0.9, 1.0], "format": ".1f", "title": "Average Accuracy"}}}},
 {"data": {"name": "d"}, "width": 330, "height": 202, "title": {"text": "(d) Retweet", "offset": 25},
  "mark": {"type": "circle", "size": 40, "color": "black", "opacity": 1},
  "encoding": {
   "x": {"field": "x", "type": "quantitative", "scale": {"domain": [-17.8, 372.8], "nice": false, "zero": false}, "axis": {"values": [0, 50, 100, 150, 200, 250, 300, 350], "title": "Edge embeddedness"}},
   "y": {"field": "y", "type": "quantitative", "scale": {"domain": [0.5, 1.05], "nice": false, "zero": false}, "axis": {"values": [0.5, 0.6, 0.7, 0.8, 0.9, 1.0], "format": ".1f", "title": "Average Accuracy"}}}}
]
}
